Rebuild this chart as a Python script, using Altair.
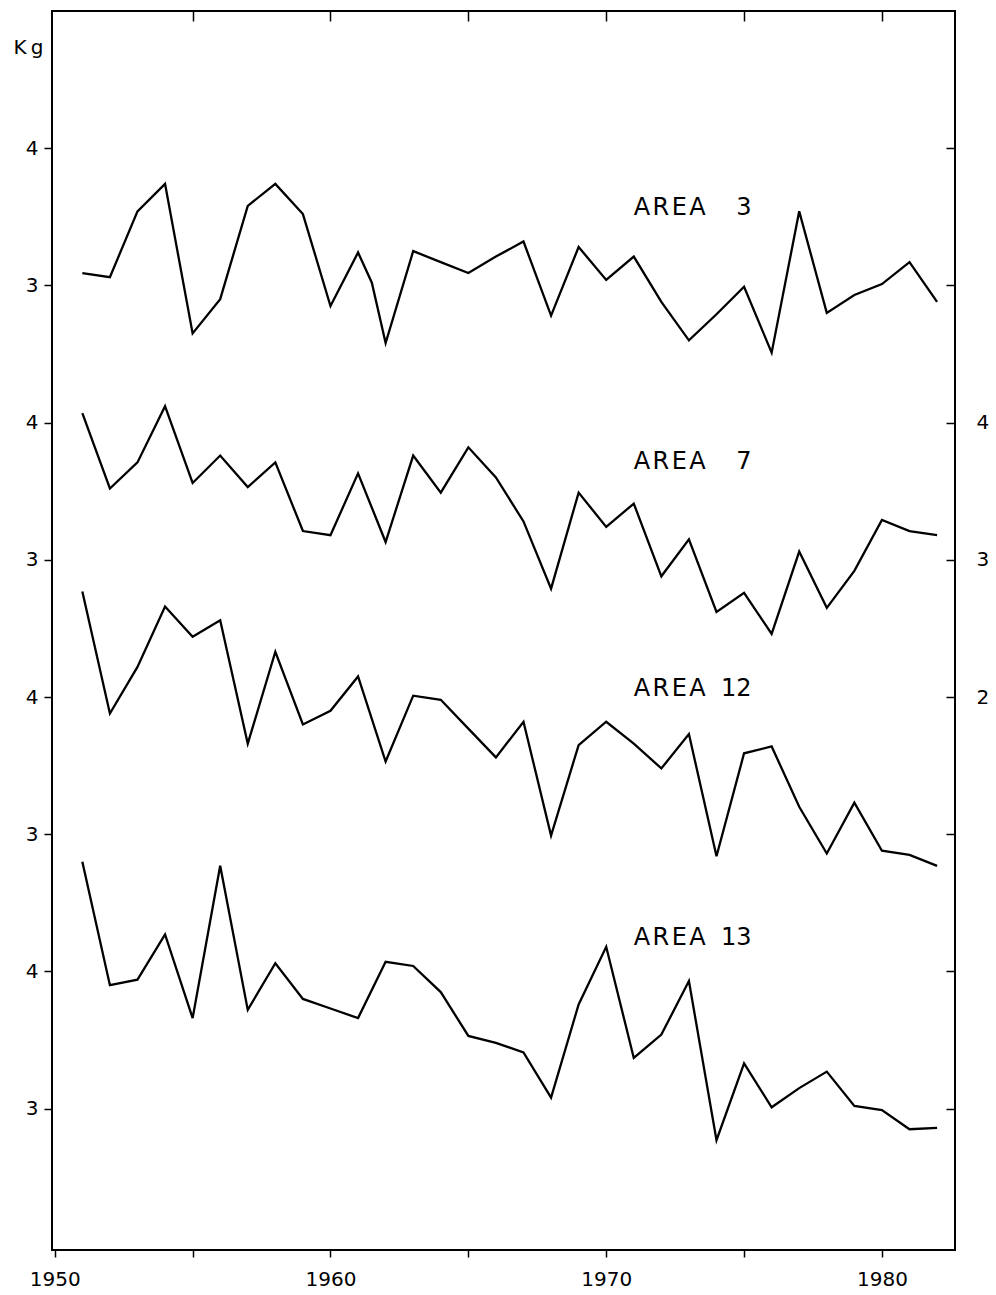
import altair as alt
import pandas as pd

# ---------------- data ----------------
YEARS = list(range(1951, 1983))

AREA3_YEARS = list(range(1951, 1962)) + [1961.5] + list(range(1962, 1983))
AREA3 = [3.09, 3.06, 3.54, 3.74, 2.65, 2.90, 3.58, 3.74, 3.52, 2.85, 3.24, 3.02,
         2.58, 3.25, 3.17, 3.09, 3.21, 3.32, 2.78, 3.28, 3.04, 3.21, 2.88, 2.60,
         2.79, 2.99, 2.51, 3.54, 2.80, 2.93, 3.01, 3.17, 2.88]

AREA7 = [4.07, 3.52, 3.71, 4.12, 3.56, 3.76, 3.53, 3.71, 3.21, 3.18, 3.63, 3.13,
         3.76, 3.49, 3.82, 3.60, 3.28, 2.79, 3.49, 3.24, 3.41, 2.88, 3.15, 2.62,
         2.76, 2.46, 3.06, 2.65, 2.92, 3.29, 3.21, 3.18]

AREA12 = [4.77, 3.88, 4.22, 4.66, 4.44, 4.56, 3.66, 4.33, 3.80, 3.90, 4.15, 3.53,
          4.01, 3.98, 3.77, 3.56, 3.82, 2.99, 3.65, 3.82, 3.66, 3.48, 3.73, 2.84,
          3.59, 3.64, 3.20, 2.86, 3.23, 2.88, 2.85, 2.77]

AREA13 = [4.80, 3.90, 3.94, 4.27, 3.66, 4.77, 3.72, 4.06, 3.80, 3.73, 3.66, 4.07,
          4.04, 3.85, 3.53, 3.48, 3.41, 3.08, 3.76, 4.18, 3.37, 3.54, 3.93, 2.77,
          3.33, 3.01, 3.15, 3.27, 3.02, 2.99, 2.85, 2.86]

AREA_NAMES = ["AREA 3", "AREA 7", "AREA 12", "AREA 13"]
AREA_SHIFT = [0, 2, 4, 6]          # vertical stacking of the four panels (kg units)
HS = "\u200a"   # hair space between letters
NB = "\u00a0"   # non-breaking space (not collapsed in SVG)
LABEL_TEXT = [f"A{HS}R{HS}E{HS}A{NB*4}3", f"A{HS}R{HS}E{HS}A{NB*4}7",
              f"A{HS}R{HS}E{HS}A{NB*2}12", f"A{HS}R{HS}E{HS}A{NB*2}13"]
LABEL_YEAR = [1971, 1971, 1971, 1971]
LABEL_LEVEL = [3.51, 3.66, 4.01, 4.19]

LEFT_TICKS = [4, 3, 2, 1, 0, -1, -2, -3]
LEFT_TICK_LABELS = ["4", "3", "4", "3", "4", "3", "4", "3"]
RIGHT_TICK_LABELS = ["", "", "4", "3", "2", "", "", ""]
X_TICKS = [1950, 1955, 1960, 1965, 1970, 1975, 1980]
X_TICK_LABELS = ["1950", "", "1960", "", "1970", "", "1980"]
TOP_TICKS = [1955, 1960, 1965, 1970, 1975, 1980]

X_DOMAIN = [1949.9, 1982.65]
Y_DOMAIN = [-4.03, 5.0]

# ---------------- tables ----------------
series = [(AREA3_YEARS, AREA3), (YEARS, AREA7), (YEARS, AREA12), (YEARS, AREA13)]
rows = []
for name, shift, (yrs, vals) in zip(AREA_NAMES, AREA_SHIFT, series):
    for yr, v in zip(yrs, vals):
        rows.append({"area": name, "year": yr, "kg": v, "pos": v - shift})
df = pd.DataFrame(rows)

lab = pd.DataFrame({
    "text": LABEL_TEXT,
    "year": LABEL_YEAR,
    "pos": [lv - s for lv, s in zip(LABEL_LEVEL, AREA_SHIFT)],
})


def lookup_expr(keys, labels):
    expr = "''"
    for k, l in reversed(list(zip(keys, labels))):
        expr = f"datum.value == {k} ? '{l}' : ({expr})"
    return expr


FONT = "DejaVu Sans"

xs = alt.Scale(domain=X_DOMAIN, nice=False, zero=False)
ys = alt.Scale(domain=Y_DOMAIN, nice=False, zero=False)

lines = alt.Chart(df).mark_line(color="black", strokeWidth=2.3,
                                strokeJoin="miter").encode(
    x=alt.X("year:Q", scale=xs,
            axis=alt.Axis(orient="bottom", values=X_TICKS,
                          labelExpr=lookup_expr(X_TICKS, X_TICK_LABELS),
                          tickSize=7, labelPadding=12, labelFontSize=20,
                          labelFlush=False, labelOverlap=False, labelBound=False,
                          domain=False, grid=False, title=None)),
    y=alt.Y("pos:Q", scale=ys,
            axis=alt.Axis(orient="left", values=LEFT_TICKS,
                          labelExpr=lookup_expr(LEFT_TICKS, LEFT_TICK_LABELS),
                          tickSize=8, labelPadding=6, labelFontSize=20,
                          labelFlush=False, labelOverlap=False,
                          domain=False, grid=False,
                          title="K\u2009g", titleAngle=0, titleX=-24, titleY=42,
                          titleAlign="center", titleBaseline="alphabetic",
                          titleFontSize=20, titleFontWeight="normal",
                          titleFont=FONT, titleColor="black")),
    detail="area:N",
    order="year:Q",
)

labels = alt.Chart(lab).mark_text(
    align="left", baseline="alphabetic", fontSize=24, font=FONT, color="black"
).encode(
    x=alt.X("year:Q", scale=xs,
            axis=alt.Axis(orient="top", values=TOP_TICKS, labels=False,
                          tickSize=10, offset=-10, domain=False, grid=False,
                          title=None)),
    y=alt.Y("pos:Q", scale=ys,
            axis=alt.Axis(orient="right", values=LEFT_TICKS,
                          labelExpr=lookup_expr(LEFT_TICKS, RIGHT_TICK_LABELS),
                          tickSize=9, offset=-9, labelPadding=21, labelFontSize=20,
                          labelFlush=False, labelOverlap=False,
                          domain=False, grid=False, title=None)),
    text="text:N",
)

chart = alt.layer(lines, labels).resolve_scale(
    x="independent", y="independent"
).properties(
    width=903, height=1239,
    autosize=alt.AutoSizeParams(type="none"),
    padding={"left": 52, "top": 11, "right": 41, "bottom": 45},
    background="white",
).configure_view(
    stroke="black", strokeWidth=2
).configure_axis(
    labelFont=FONT, labelColor="black", tickColor="black", tickWidth=1.5,
)

chart.save("out.html", embed_options={"renderer": "svg", "actions": False})
